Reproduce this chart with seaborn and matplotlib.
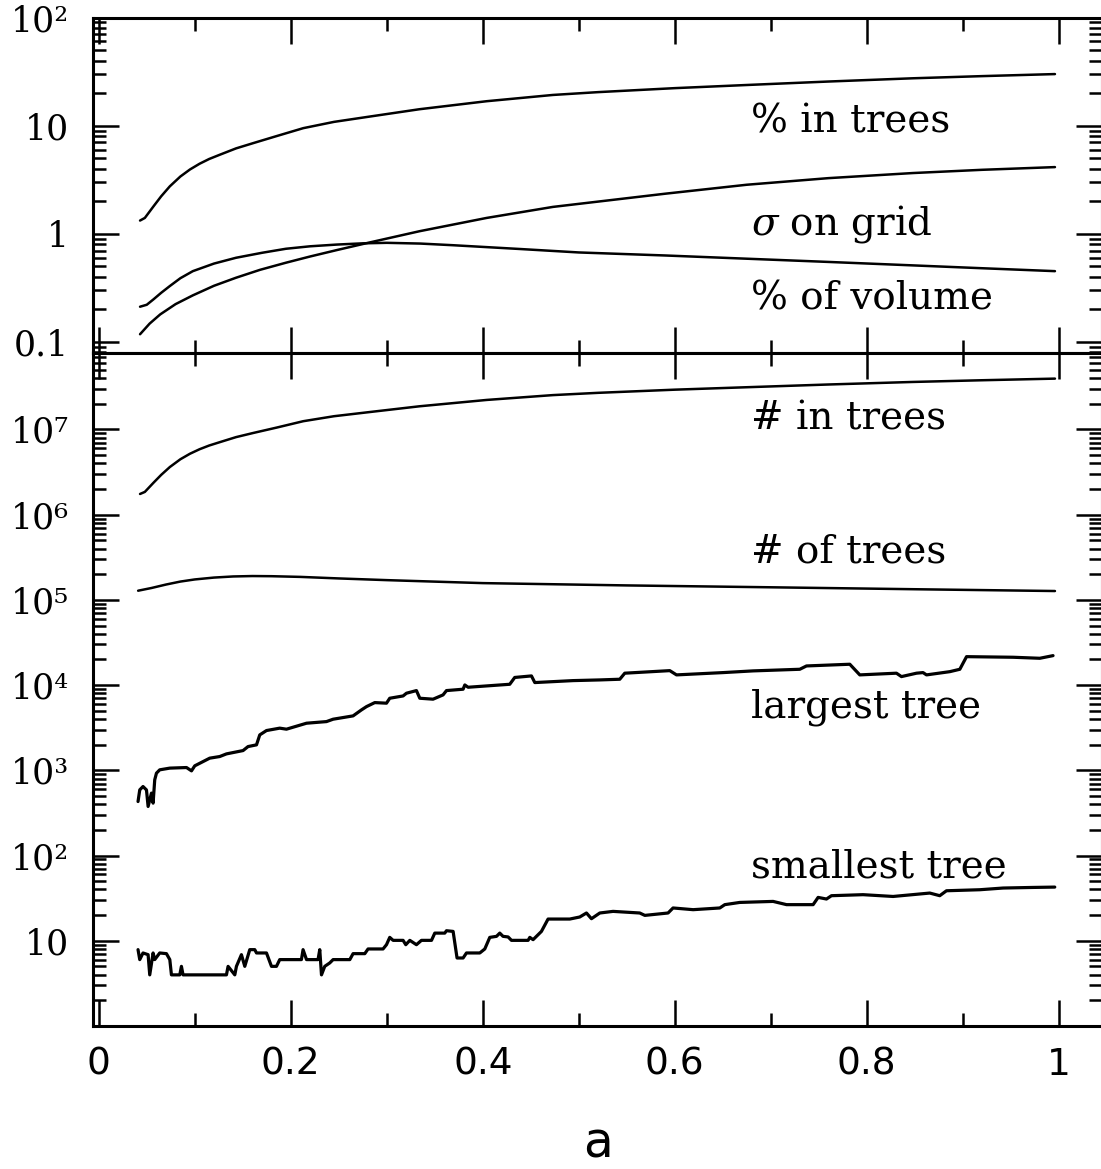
import numpy as np
import pandas as pd
import matplotlib
matplotlib.use("Agg")
import matplotlib.pyplot as plt
import seaborn as sns
from matplotlib.ticker import FixedLocator, MultipleLocator, LogLocator, NullFormatter

sns.set_theme(style="ticks")
plt.rcParams['font.family'] = ['DejaVu Sans']
plt.rcParams['mathtext.fontset'] = 'dejavuserif'
for k in ("text.color", "axes.labelcolor", "xtick.color", "ytick.color", "axes.edgecolor"):
    plt.rcParams[k] = "black"

# ---------------- data ----------------
# top panel
a_pct_in = [0.043, 0.048, 0.057, 0.065, 0.074, 0.085, 0.095, 0.105, 0.115, 0.126,
            0.143, 0.161, 0.185, 0.213, 0.245, 0.282, 0.334, 0.404, 0.473, 0.52,
            0.60, 0.675, 0.76, 0.848, 0.92, 0.996]
pct_in_trees = [1.327, 1.403, 1.795, 2.223, 2.748, 3.388, 3.936, 4.446, 4.920, 5.383,
                6.166, 6.902, 8.0, 9.484, 10.84, 12.13, 14.19, 16.83, 19.23, 20.42,
                22.23, 23.77, 25.59, 27.42, 28.71, 29.99]

a_sig = [0.043, 0.053, 0.064, 0.08, 0.098, 0.12, 0.143, 0.168, 0.195, 0.22,
         0.248, 0.282, 0.334, 0.404, 0.473, 0.59, 0.675, 0.76, 0.848, 0.92, 0.996]
sigma_on_grid = [0.118, 0.148, 0.180, 0.224, 0.270, 0.331, 0.393, 0.465, 0.541, 0.617,
                 0.708, 0.832, 1.057, 1.403, 1.774, 2.350, 2.844, 3.273, 3.648, 3.908, 4.140]

a_vol = [0.043, 0.050, 0.057, 0.065, 0.074, 0.085, 0.098, 0.12, 0.143, 0.17,
         0.195, 0.22, 0.248, 0.275, 0.30, 0.335, 0.369, 0.439, 0.50, 0.59,
         0.675, 0.76, 0.848, 0.92, 0.996]
pct_of_volume = [0.212, 0.221, 0.248, 0.285, 0.329, 0.389, 0.452, 0.531, 0.601, 0.668,
                 0.728, 0.767, 0.796, 0.817, 0.826, 0.813, 0.785, 0.724, 0.673, 0.631,
                 0.589, 0.550, 0.511, 0.481, 0.452]

# bottom panel
a_nin = [0.043, 0.048, 0.057, 0.065, 0.074, 0.085, 0.095, 0.105, 0.115, 0.126,
         0.143, 0.161, 0.185, 0.213, 0.245, 0.282, 0.334, 0.404, 0.473, 0.52,
         0.60, 0.675, 0.76, 0.848, 0.92, 0.996]
num_in_trees = [1.75e6, 1.85e6, 2.37e6, 2.93e6, 3.62e6, 4.47e6, 5.19e6, 5.86e6, 6.48e6, 7.09e6,
                8.13e6, 9.10e6, 1.05e7, 1.25e7, 1.43e7, 1.60e7, 1.87e7, 2.22e7, 2.53e7, 2.69e7,
                2.93e7, 3.13e7, 3.37e7, 3.61e7, 3.78e7, 3.95e7]

a_nof = [0.041, 0.055, 0.07, 0.085, 0.10, 0.12, 0.14, 0.16, 0.18, 0.21,
         0.25, 0.30, 0.40, 0.55, 0.70, 0.85, 0.996]
num_of_trees = [1.282e5, 1.380e5, 1.514e5, 1.641e5, 1.738e5, 1.828e5, 1.884e5, 1.905e5, 1.897e5, 1.862e5,
                1.786e5, 1.706e5, 1.574e5, 1.479e5, 1.406e5, 1.334e5, 1.271e5]

a_large = [0.0409, 0.0427, 0.0461, 0.0497, 0.0514, 0.0549, 0.0566, 0.0583, 0.0601, 0.0635,
           0.0740, 0.0914, 0.0966, 0.1000, 0.1156, 0.1260, 0.1330, 0.1503, 0.1555, 0.1643,
           0.1677, 0.1747, 0.1885, 0.1955, 0.2164, 0.2372, 0.2441, 0.2649, 0.2736, 0.2789,
           0.2875, 0.2997, 0.3031, 0.3170, 0.3205, 0.3309, 0.3344, 0.3482, 0.3586, 0.3622,
           0.3795, 0.3813, 0.3847, 0.4281, 0.4333, 0.4507, 0.4542, 0.4941, 0.5219, 0.5427,
           0.5479, 0.5948, 0.6018, 0.6503, 0.6816, 0.7302, 0.7372, 0.7823, 0.7927, 0.8309,
           0.8361, 0.8518, 0.8586, 0.8622, 0.8865, 0.8969, 0.9039, 0.9524, 0.9802, 0.9940]
largest_tree_log10 = [2.634, 2.771, 2.81, 2.77, 2.576, 2.733, 2.615, 2.889, 2.967, 3.006,
                      3.026, 3.033, 2.994, 3.053, 3.143, 3.162, 3.193, 3.232, 3.279, 3.299,
                      3.416, 3.467, 3.495, 3.483, 3.553, 3.572, 3.60, 3.639, 3.709, 3.748,
                      3.795, 3.788, 3.846, 3.873, 3.905, 3.936, 3.846, 3.835, 3.885, 3.936,
                      3.952, 4.002, 3.975, 4.01, 4.09, 4.108, 4.03, 4.053, 4.061, 4.069,
                      4.14, 4.17, 4.12, 4.147, 4.167, 4.186, 4.225, 4.245, 4.12, 4.14,
                      4.10, 4.14, 4.147, 4.12, 4.158, 4.186, 4.334, 4.327, 4.315, 4.346]

a_small = [0.0409, 0.0427, 0.0461, 0.0514, 0.0531, 0.0566, 0.0583, 0.0635, 0.0705, 0.0740,
           0.0757, 0.0844, 0.0861, 0.0878, 0.1330, 0.1347, 0.1417, 0.1434, 0.1486, 0.1521,
           0.1573, 0.1625, 0.1643, 0.1747, 0.1799, 0.1851, 0.1885, 0.2111, 0.2128, 0.2164,
           0.2284, 0.2302, 0.2320, 0.2354, 0.2406, 0.2441, 0.2615, 0.2649, 0.2771, 0.2805,
           0.2961, 0.2997, 0.3031, 0.3066, 0.3170, 0.3198, 0.3240, 0.3309, 0.3361, 0.3466,
           0.3500, 0.3604, 0.3622, 0.3691, 0.3732, 0.3795, 0.3830, 0.3969, 0.4021, 0.4073,
           0.4143, 0.4177, 0.4211, 0.4264, 0.4299, 0.4472, 0.4490, 0.4524, 0.4611, 0.4680,
           0.4906, 0.5010, 0.5080, 0.5132, 0.5219, 0.5357, 0.5635, 0.5688, 0.5930, 0.5982,
           0.6191, 0.6469, 0.6521, 0.6677, 0.7024, 0.7164, 0.7441, 0.7493, 0.7580, 0.7632,
           0.7961, 0.8274, 0.8656, 0.8760, 0.8830, 0.9177, 0.9420, 0.9732, 0.9958]
smallest_tree_log10 = [0.896, 0.779, 0.857, 0.837, 0.60, 0.857, 0.779, 0.857, 0.849, 0.779,
                       0.60, 0.60, 0.70, 0.60, 0.60, 0.70, 0.60, 0.70, 0.837, 0.70,
                       0.896, 0.896, 0.857, 0.857, 0.70, 0.70, 0.779, 0.779, 0.896, 0.779,
                       0.779, 0.896, 0.60, 0.70, 0.74, 0.779, 0.779, 0.849, 0.849, 0.904,
                       0.904, 0.954, 1.04, 1.005, 1.005, 0.954, 1.005, 0.954, 1.005, 1.005,
                       1.09, 1.09, 1.118, 1.11, 0.798, 0.798, 0.857, 0.857, 0.904, 1.04,
                       1.052, 1.09, 1.052, 1.045, 1.005, 1.005, 1.04, 1.013, 1.11, 1.255,
                       1.255, 1.279, 1.326, 1.259, 1.326, 1.345, 1.326, 1.298, 1.326, 1.385,
                       1.365, 1.385, 1.424, 1.45, 1.462, 1.424, 1.424, 1.509, 1.49, 1.529,
                       1.541, 1.52, 1.56, 1.529, 1.587, 1.599, 1.619, 1.626, 1.63]

top_labels = ["% in trees", r"$\sigma$ on grid", "% of volume"]
top_label_y = [8.6, 0.985, 0.2]
bot_labels = ["# in trees", "# of trees", "largest tree", "smallest tree"]
bot_label_y = [1.0e7, 2.72e5, 4.13e3, 55.0]

x_ticks = [0, 0.2, 0.4, 0.6, 0.8, 1.0]
x_ticklabels = ["0", "0.2", "0.4", "0.6", "0.8", "1"]
top_yticks = [0.1, 1, 10, 100]
top_yticklabels = ["0.1", "1", "10", "10\u00b2"]
bot_yticks = [10, 1e2, 1e3, 1e4, 1e5, 1e6, 1e7]
bot_yticklabels = ["10", "10\u00b2", "10\u00b3", "10\u2074", "10\u2075", "10\u2076", "10\u2077"]

# ---------------- figure ----------------
fig = plt.figure(figsize=(11.01, 11.69), dpi=100)
fig.patch.set_facecolor("white")
left, width = 93 / 1101, (1102 - 93) / 1101
ax_top = fig.add_axes([left, 1 - 352.5 / 1169, width, 335 / 1169])
ax_bot = fig.add_axes([left, 1 - 1026 / 1169, width, 673.5 / 1169])

smooth_lw = 1.8
step_lw = 2.3

sns.lineplot(x=a_pct_in, y=pct_in_trees, ax=ax_top, color="black", lw=smooth_lw, estimator=None, sort=False)
sns.lineplot(x=a_sig, y=sigma_on_grid, ax=ax_top, color="black", lw=smooth_lw, estimator=None, sort=False)
sns.lineplot(x=a_vol, y=pct_of_volume, ax=ax_top, color="black", lw=smooth_lw, estimator=None, sort=False)

sns.lineplot(x=a_nin, y=num_in_trees, ax=ax_bot, color="black", lw=smooth_lw, estimator=None, sort=False)
sns.lineplot(x=a_nof, y=num_of_trees, ax=ax_bot, color="black", lw=smooth_lw, estimator=None, sort=False)
sns.lineplot(x=a_large, y=np.power(10.0, largest_tree_log10), ax=ax_bot, color="black",
             lw=step_lw, estimator=None, sort=False)
sns.lineplot(x=a_small, y=np.power(10.0, smallest_tree_log10), ax=ax_bot, color="black",
             lw=step_lw, estimator=None, sort=False)

for ax in (ax_top, ax_bot):
    ax.set_yscale("log")
    ax.set_xlim(-0.006, 1.045)
    ax.set_facecolor("white")
    for s in ax.spines.values():
        s.set_linewidth(2.2)
        s.set_color("black")
        s.set_visible(True)
    ax.xaxis.set_major_locator(FixedLocator(x_ticks))
    ax.xaxis.set_minor_locator(MultipleLocator(0.1))
    ax.tick_params(which="both", direction="in", top=True, bottom=True, left=True, right=True,
                   color="black", labelcolor="black", width=1.8)
    ax.tick_params(which="major", length=18.5)
    ax.tick_params(which="minor", length=9.5)
    ax.tick_params(axis="y", which="major", pad=17)
    ax.set_xlabel("")
    ax.set_ylabel("")
    ax.grid(False)

ax_top.set_ylim(0.08, 100)
ax_top.set_yticks(top_yticks, top_yticklabels, fontfamily="DejaVu Serif", fontsize=25)
ax_top.yaxis.set_minor_locator(LogLocator(base=10, subs=np.arange(2, 10), numticks=100))
ax_top.yaxis.set_minor_formatter(NullFormatter())
ax_top.set_xticks(x_ticks, [""] * len(x_ticks))

ax_bot.set_ylim(1, 8e7)
ax_bot.set_yticks(bot_yticks, bot_yticklabels, fontfamily="DejaVu Serif", fontsize=25)
ax_bot.yaxis.set_minor_locator(LogLocator(base=10, subs=np.arange(2, 10), numticks=100))
ax_bot.yaxis.set_minor_formatter(NullFormatter())
ax_bot.set_xticks(x_ticks, x_ticklabels, fontsize=27)
ax_bot.tick_params(axis="x", which="major", pad=15)

ax_bot.set_xlabel("a", fontsize=35, color="black")
ax_bot.xaxis.label.set_va("bottom")
ax_bot.xaxis.set_label_coords(0.5, -(1167.5 - 1026) / 673.5)

label_x = 0.679
for txt, yv in zip(top_labels, top_label_y):
    ax_top.text(label_x, yv, txt, fontfamily="DejaVu Serif", fontsize=28, va="baseline", ha="left",
                color="black")
for txt, yv in zip(bot_labels, bot_label_y):
    ax_bot.text(label_x, yv, txt, fontfamily="DejaVu Serif", fontsize=28, va="baseline", ha="left",
                color="black")

fig.savefig("out.png", dpi=100, facecolor="white")
